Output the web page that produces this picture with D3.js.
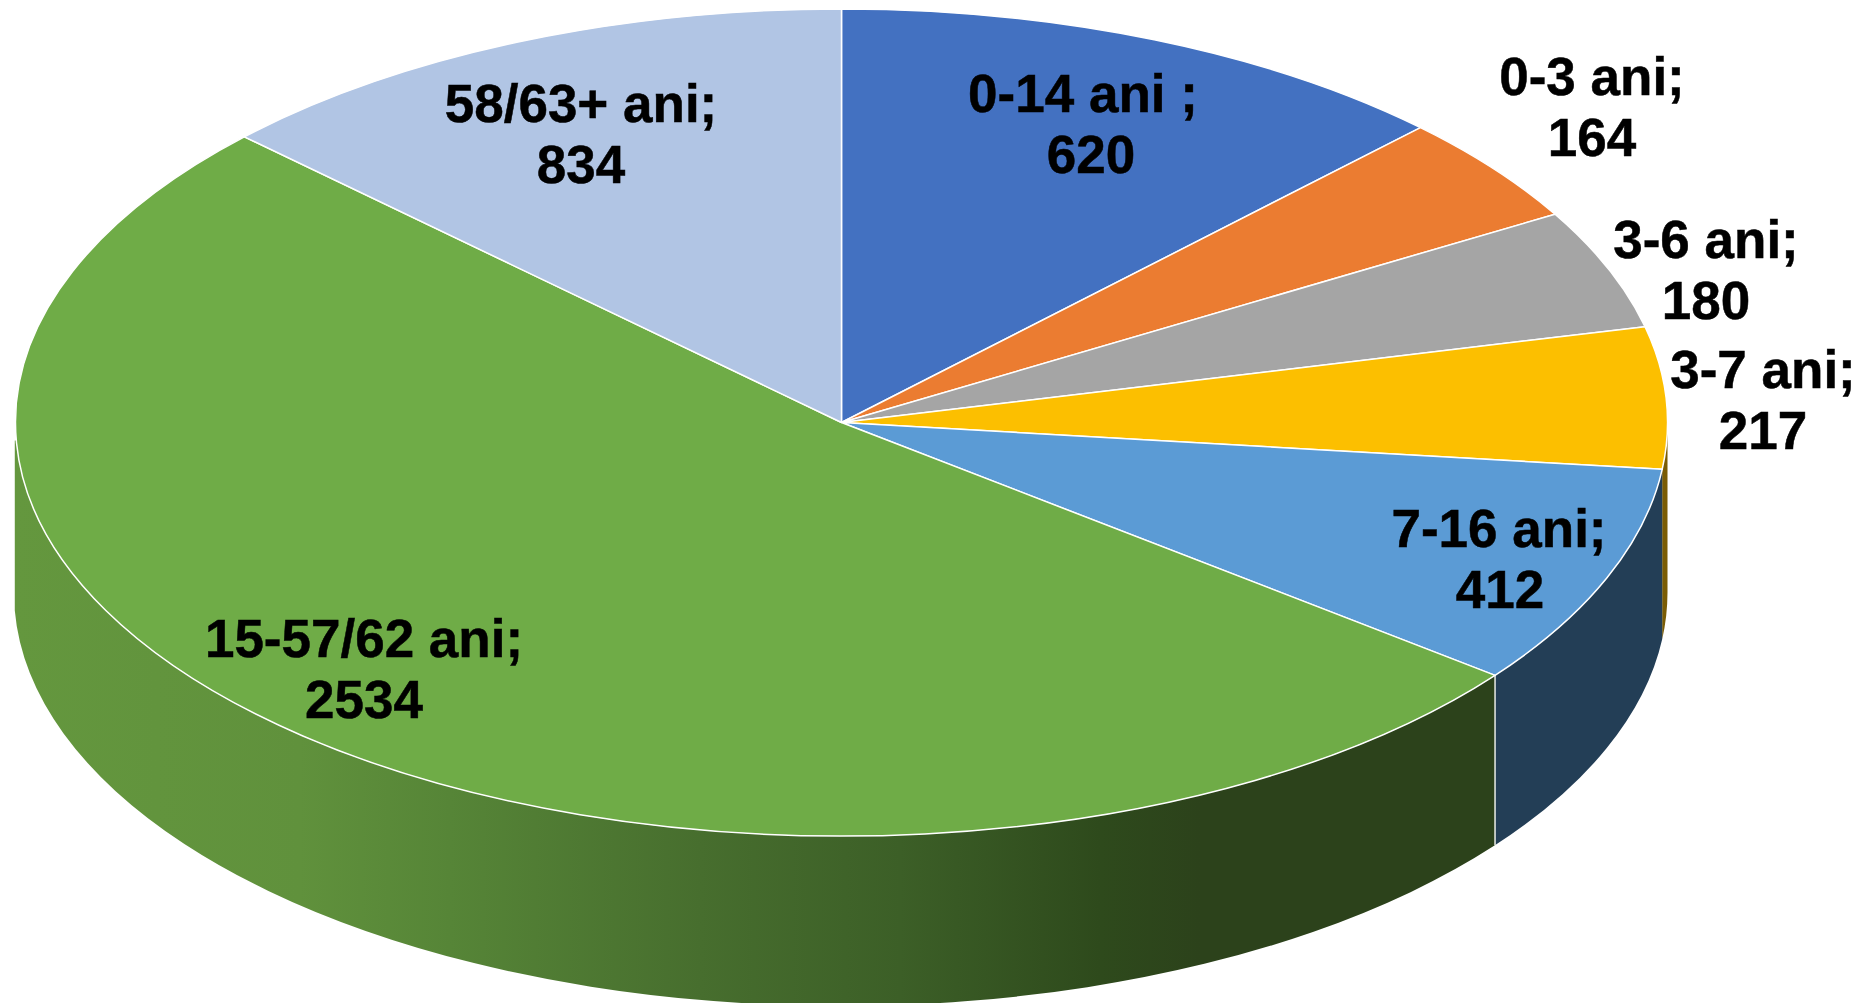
<!DOCTYPE html>
<html>
<head>
<meta charset="utf-8">
<script src="https://cdn.jsdelivr.net/npm/d3@7"></script>
<style>
html,body{margin:0;padding:0;background:#fff;overflow:hidden}
svg{display:block}
text{font-family:"Liberation Sans",Arial,sans-serif;font-weight:700;fill:#000;stroke:#000;stroke-width:0.5px;white-space:pre}
</style>
</head>
<body>
<svg id="chart" width="1870" height="1003"></svg>
<script>
// Labels printed on the chart
const categories = ["0-14 ani ", "0-3 ani", "3-6 ani", "3-7 ani", "7-16 ani", "15-57/62 ani", "58/63+ ani"];
const labelValues = [620, 164, 180, 217, 412, 2534, 834];
// Slice sizes as drawn in the picture (degrees of the pie); they are not proportional to the printed labels
const sliceShares = [44.5, 15.25, 16.85, 19.9, 31.2, 186, 46.3];

const topColors = ["#4371c1", "#eb7c31", "#a5a5a5", "#fcbf00", "#5b9bd5", "#6fac47", "#b1c5e4"];
const wallColors = ["#223c55", "#7a5c05", "#444", "#7a5c05", "#233e56", "url(#greenWall)", "#555"];

const W = 1870, H = 1003;
const cx = 841.5, cy = 422.5, rx = 826, ry = 413.5, depth = 170;
const fontSize = 53, lineGap = 61;
// Label anchor: centre x and first-line baseline
const labelX = [1083, 1592, 1706, 1763, 1499, 364, 581];
const labelY = [112, 95, 258, 388, 547, 657, 122];
const secondLineDx = [8, 0, 0, 0, 1, 0, 0];

const svg = d3.select("#chart");
const defs = svg.append("defs");
const greenStops = [[15,"#64973e"],[300,"#60913c"],[450,"#568537"],[700,"#476e2e"],[900,"#3c5f27"],[1100,"#2e4a1c"],[1200,"#2c421b"],[1494,"#2c421b"]];
const xToOffset = d3.scaleLinear().domain([15,1494]).range([0,1]);
const grad = defs.append("linearGradient").attr("id","greenWall")
  .attr("gradientUnits","userSpaceOnUse").attr("x1",15).attr("x2",1494).attr("y1",0).attr("y2",0);
greenStops.forEach(s => grad.append("stop").attr("offset",xToOffset(s[0])).attr("stop-color",s[1]));

const arcs = d3.pie().sort(null).value(d => d)(sliceShares);
const px = a => cx + rx * Math.sin(a);
const py = a => cy - ry * Math.cos(a);
const bx = a => cx - 0.75 + (rx + 0.75) * Math.sin(a);

function wallPath(a0, a1) {
  const large = a1 - a0 > Math.PI ? 1 : 0;
  return `M${px(a0)},${py(a0)}A${rx},${ry} 0 ${large} 1 ${px(a1)},${py(a1)}` +
         `L${bx(a1)},${py(a1)}L${bx(a1)},${py(a1)+depth}` +
         `A${rx+0.75},${ry} 0 ${large} 0 ${bx(a0)},${py(a0)+depth}Z`;
}
const front0 = Math.PI/2, front1 = 267.5*Math.PI/180;
const walls = arcs.map((d,i)=>({i, a0:Math.max(d.startAngle,front0), a1:Math.min(d.endAngle,front1)})).filter(d=>d.a1>d.a0);

svg.append("g").selectAll("path").data(walls).join("path")
  .attr("d", d => wallPath(d.a0,d.a1))
  .attr("fill", d => wallColors[d.i]);

// white seam between the green and blue walls
const seam = arcs[4].endAngle;
svg.append("line").attr("x1",px(seam)).attr("x2",px(seam)).attr("y1",py(seam)).attr("y2",py(seam)+depth)
  .attr("stroke","#e8ebe6").attr("stroke-width",1.5);

const arcGen = d3.arc().innerRadius(0).outerRadius(rx);
svg.append("g").attr("transform",`translate(${cx},${cy}) scale(1,${ry/rx})`)
  .selectAll("path").data(arcs).join("path")
  .attr("d", arcGen)
  .attr("fill",(d,i)=>topColors[i])
  .attr("stroke","#fff").attr("stroke-width",1.5)
  .attr("stroke-linejoin","round")
  .attr("vector-effect","non-scaling-stroke");

const labels = svg.append("g").selectAll("text").data(categories).join("text")
  .attr("text-anchor","middle").attr("font-size",fontSize);
labels.append("tspan").attr("x",(d,i)=>labelX[i]).attr("y",(d,i)=>labelY[i]).text(d=>d+";");
labels.append("tspan").attr("x",(d,i)=>labelX[i]+secondLineDx[i]).attr("y",(d,i)=>labelY[i]+lineGap).text((d,i)=>labelValues[i]);
</script>
</body>
</html>
